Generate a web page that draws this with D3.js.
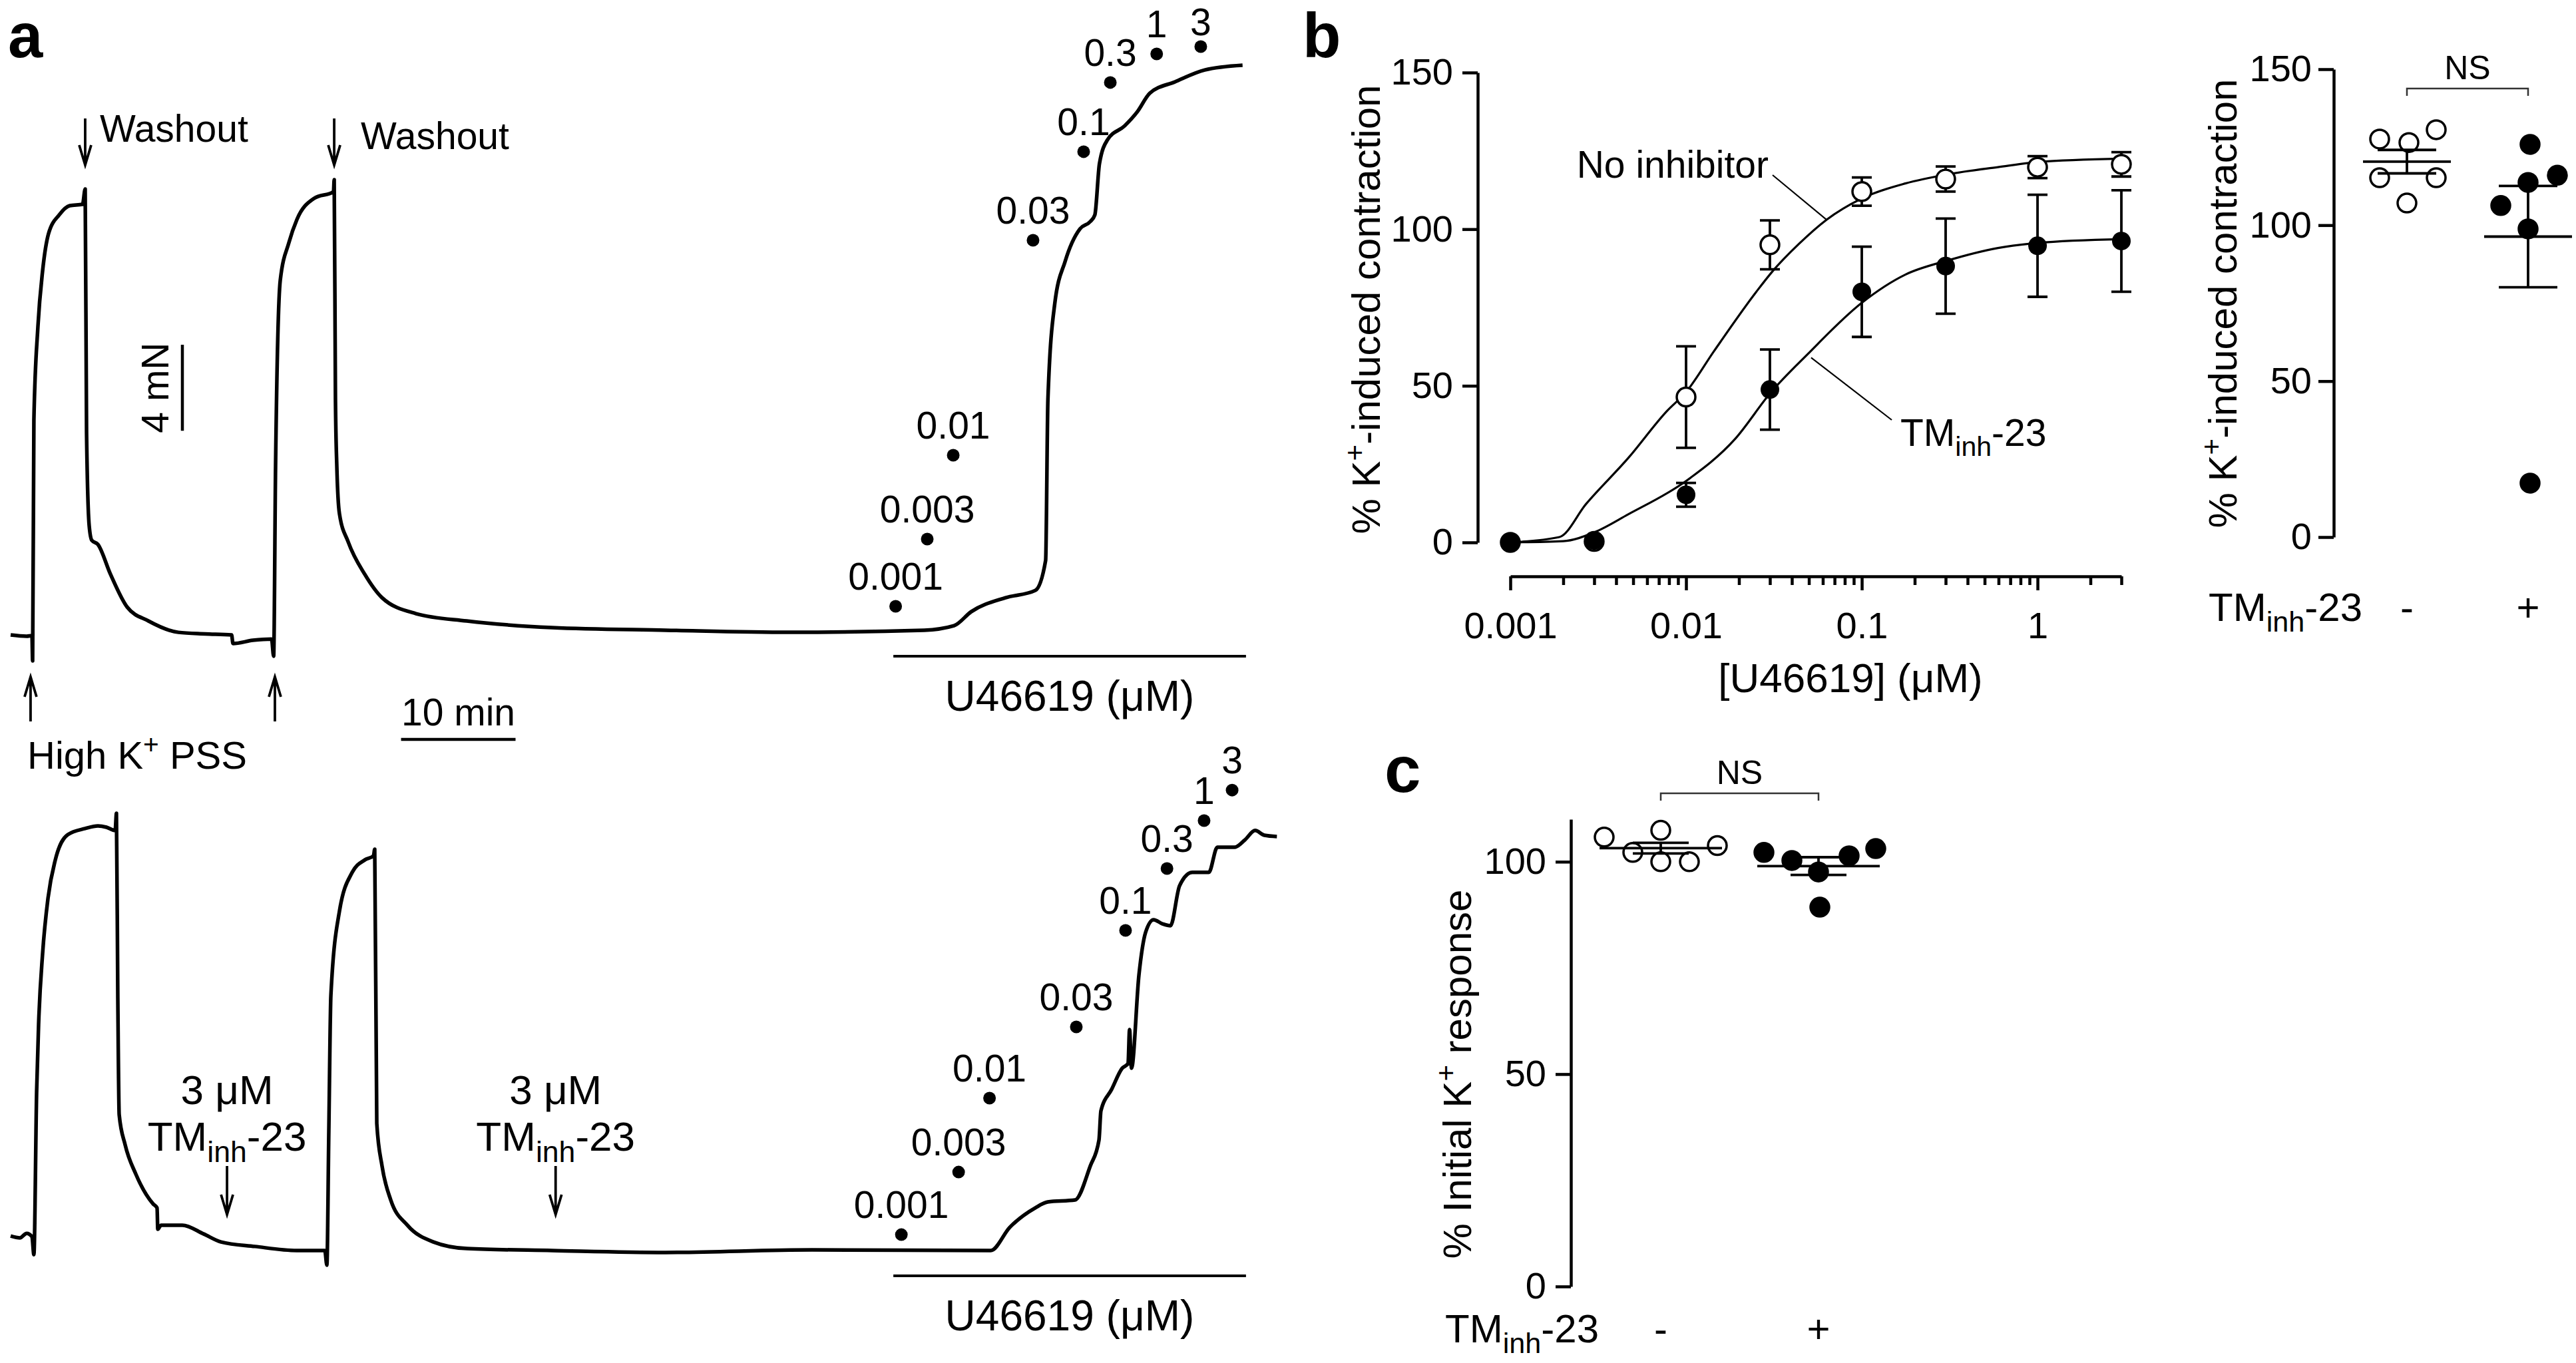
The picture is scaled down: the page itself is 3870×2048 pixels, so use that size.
<!DOCTYPE html>
<html>
<head>
<meta charset="utf-8">
<script src="https://cdn.jsdelivr.net/npm/d3@7"></script>
<style>
body { margin: 0; background: #fff; }
text { font-family: "Liberation Sans", Arial, Helvetica, sans-serif; fill: #000; }
</style>
</head>
<body>
<svg id="fig"></svg>
<script>
// ---- panel a : isometric tension traces (time in min, force in mN) ----
var ctrlT = [0, 1.4, 1.86, 1.92, 2.03, 2.38, 2.79, 3.31, 4.24, 5.17, 6.28, 6.51, 6.63, 6.86, 7.09,
  7.62, 8.72, 10.17, 12.03, 14.65, 17.0, 19.3, 19.42, 21.16, 22.79, 22.97, 23.14, 23.55, 24.3, 25.0,
  26.51, 28.2, 28.26, 28.37, 28.49, 28.72, 29.48, 30.93, 32.44, 35.41, 39.83, 47.27, 57.2, 68.0, 79.8,
  82.4, 83.9, 86.9, 89.5, 90.4, 90.6, 91.2, 92.1, 93.4, 94.3, 94.7, 95.1, 95.8, 97.3, 98.4,
  99.5, 101.7, 104.3, 107.6];
var ctrlF = [0, -0.06, -0.03, -1.21, 10.0, 14.33, 16.93, 18.67, 19.54, 19.97, 20.03, 20.74, 9.41, 5.08, 4.40,
  4.21, 2.82, 1.30, 0.65, 0.12, 0.05, 0, -0.4, -0.25, -0.19, -0.99, 7.86, 16.5, 18.24, 19.32,
  20.31, 20.62, 21.18, 10.96, 7.83, 5.63, 4.33, 2.82, 1.73, 0.99, 0.65, 0.34, 0.22, 0.12, 0.22,
  0.43, 1.08, 1.73, 2.07, 3.47, 10.96, 15.42, 17.37, 18.89, 19.23, 19.54, 21.92, 23.03, 23.68, 24.33,
  25.2, 25.73, 26.28, 26.5];

var inhT = [0, 0.81, 1.4, 1.86, 2.03, 2.27, 2.44, 2.79, 3.26, 3.90, 5.0, 6.51, 7.62, 8.37, 9.13,
  9.24, 9.36, 9.48, 10.0, 10.93, 12.44, 12.79, 12.85, 13.14, 15.0, 16.86, 18.37, 21.34, 25.0, 27.44,
  27.62, 27.79, 27.97, 28.72, 29.83, 30.93, 31.69, 31.8, 31.98, 32.44, 33.2, 34.65, 36.92, 39.88, 47.27,
  57.2, 70.0, 85.6, 87.27, 89.48, 90.58, 92.97, 94.3, 95.06, 95.23, 96.16, 97.09, 97.6, 97.73, 97.9,
  98.55, 99.13, 99.83, 100.6, 101.3, 102.1, 103.2, 104.65, 105.4, 106.9, 107.8, 108.7, 109.5, 110.6];
var inhF = [0.68, 0.59, 0.8, 0.65, -0.19, 7.4, 10.5, 13.81, 16.38, 18.17, 19.35, 19.63, 19.75, 19.69, 19.54,
  20.34, 11.73, 6.32, 4.92, 3.56, 2.17, 1.98, 0.99, 1.18, 1.18, 0.77, 0.40, 0.19, 0, 0,
  -0.68, 5.54, 11.86, 15.79, 17.59, 18.17, 18.36, 18.67, 5.91, 3.93, 2.35, 1.18, 0.40, 0.09, 0,
  -0.09, 0.03, 0, 1.08, 1.98, 2.26, 2.35, 3.93, 5.14, 6.5, 7.49, 8.48, 8.7, 10.28, 8.48,
  12.82, 14.8, 15.39, 15.2, 15.11, 16.97, 17.59, 17.59, 18.76, 18.76, 19.1, 19.54, 19.32, 19.26];

var doseLabels = ["0.001", "0.003", "0.01", "0.03", "0.1", "0.3", "1", "3"];
var ctrlDoseT = [77.3, 80.06, 82.33, 89.3, 93.72, 96.05, 100.1, 103.95];
var ctrlDoseF = [1.33, 4.46, 8.36, 18.36, 22.48, 25.7, 27.03, 27.37];
var inhDoseT = [77.8, 82.8, 85.5, 93.08, 97.38, 101.0, 104.24, 106.69];
var inhDoseF = [0.74, 3.65, 7.09, 10.4, 14.89, 17.77, 20.0, 21.42];

var highKT = [1.74, 23.08];      // high K+ PSS added
var washT = [6.51, 28.26];       // washout
var tmAddT = [18.9, 47.6];       // 3 uM TMinh-23 added
var u466T = [77.1, 107.9];       // U46619 period

// ---- panel b : concentration-response ----
var conc = [0.001, 0.003, 0.01, 0.03, 0.1, 0.3, 1, 3];
var ctrlMean = [0, 0.3, 46.4, 95, 112, 116, 119.8, 120.7];
var ctrlSem = [0, 0, 16.2, 7.8, 4.5, 4, 3.5, 3.9];
var inhMean = [0, 0.6, 15.2, 48.8, 80, 88.2, 94.7, 96.2];
var inhSem = [0, 0, 3.8, 12.8, 14.4, 15.2, 16.3, 16.2];

var ctrlFitX = [0.001, 0.0019, 0.0027, 0.0047, 0.0078, 0.01, 0.0144, 0.0251, 0.031, 0.0439, 0.063, 0.1, 0.177, 0.308, 0.596, 1, 3];
var ctrlFitY = [0, 1.7, 12.3, 27, 42, 48, 61, 80, 86.5, 95.3, 103, 109.8, 114.6, 117.5, 119.8, 121.4, 122.5];
var inhFitX = [0.001, 0.002, 0.003, 0.0047, 0.01, 0.019, 0.0305, 0.049, 0.1, 0.177, 0.308, 0.596, 1, 3];
var inhFitY = [0, 0.4, 3.2, 9, 19.6, 33, 48, 60, 76.5, 85.5, 90, 94, 95.6, 96.8];

var bCtrl = [127.6, 126.5, 130.6, 115.2, 115.2, 107.1];
var bInh = [125.9, 116, 113.7, 106.3, 98.8, 17.3];

// ---- panel c : initial K+ response ----
var cCtrl = [105.8, 102.2, 107.4, 100, 100, 103.8];
var cInh = [102.2, 100.3, 101.4, 103.1, 97.6, 89.3];

var groups = ["-", "+"];

// scatter jitter (px, layout only)
var bCtrlJit = [-41, 3, 44, -41, 44, 0];
var bInhJit = [3, 44, 0, -41, 0, 3];
var cCtrlJit = [-85, -42, 0, 0, 43, 85];
var cInhJit = [-82, -40, 46, 86, 0, 2];

var W = 3870, H = 2048;
var svg = d3.select("#fig").attr("width", W).attr("height", H);
svg.append("rect").attr("width", W).attr("height", H).attr("fill", "#fff");

function txt(x, y, s, size, anchor) {
  return svg.append("text").attr("x", x).attr("y", y).attr("font-size", size)
    .attr("text-anchor", anchor || "start").text(s);
}
function tmText(g, x, y, size, anchor) {
  var t = g.append("text").attr("x", x).attr("y", y).attr("font-size", size)
    .attr("text-anchor", anchor || "start");
  t.append("tspan").text("TM");
  t.append("tspan").attr("font-size", size * 0.72).attr("dy", size * 0.27).text("inh");
  t.append("tspan").attr("dy", -size * 0.27).text("-23");
  return t;
}
function kPlus(t, size) {
  t.append("tspan").text("K");
  t.append("tspan").attr("font-size", size * 0.7).attr("dy", -size * 0.38).text("+");
}
function arrow(x, yTail, yTip) {
  var d = yTip > yTail ? -1 : 1;
  svg.append("path")
    .attr("d", "M" + x + "," + yTail + "V" + yTip +
      "M" + (x - 9) + "," + (yTip + d * 30) + "L" + x + "," + yTip + "L" + (x + 9) + "," + (yTip + d * 30))
    .attr("fill", "none").attr("stroke", "#000").attr("stroke-width", 3.8);
}

// panel letters
svg.append("text").attr("x", 12).attr("y", 86).attr("font-size", 94).attr("font-weight", "bold").text("a");
svg.append("text").attr("x", 1957).attr("y", 86).attr("font-size", 94).attr("font-weight", "bold").text("b");
svg.append("text").attr("x", 2080).attr("y", 1190).attr("font-size", 98).attr("font-weight", "bold").text("c");

// ================= panel a =================
var xTime = d3.scaleLinear().domain([0, 112]).range([16, 16 + 112 * 17.2]);
var yTop = d3.scaleLinear().domain([0, 1]).range([954, 954 - 32.3]);
var yBot = d3.scaleLinear().domain([0, 1]).range([1879, 1879 - 32.3]);

function drawTrace(T, F, y) {
  var line = d3.line().x(function(d) { return xTime(d[0]); }).y(function(d) { return y(d[1]); })
    .curve(d3.curveMonotoneX);
  svg.append("path").attr("d", line(d3.zip(T, F)))
    .attr("fill", "none").attr("stroke", "#000").attr("stroke-width", 5.5)
    .attr("stroke-linejoin", "round");
}
drawTrace(ctrlT, ctrlF, yTop);
drawTrace(inhT, inhF, yBot);

function drawDoses(T, F, y) {
  T.forEach(function(t, i) {
    var cx = xTime(t), cy = y(F[i]);
    svg.append("circle").attr("cx", cx).attr("cy", cy).attr("r", 9.5).attr("fill", "#000");
    txt(cx, Math.max(cy - 25, 53), doseLabels[i], 57, "middle");
  });
}
drawDoses(ctrlDoseT, ctrlDoseF, yTop);
drawDoses(inhDoseT, inhDoseF, yBot);

// U46619 bars
[[yTop(0) + 32, 1068], [yBot(0) + 38, 1999]].forEach(function(p) {
  svg.append("line").attr("x1", xTime(u466T[0])).attr("x2", xTime(u466T[1]))
    .attr("y1", p[0]).attr("y2", p[0]).attr("stroke", "#000").attr("stroke-width", 4);
  txt((xTime(u466T[0]) + xTime(u466T[1])) / 2, p[1], "U46619 (\u03bcM)", 64, "middle");
});

// arrows and labels
highKT.forEach(function(t) { arrow(xTime(t), 1084, 1017); });
washT.forEach(function(t, i) {
  arrow(xTime(t), 178, 248);
  txt(xTime(t) + (i === 0 ? 22 : 40), i === 0 ? 213 : 224, "Washout", 57);
});
var hk = svg.append("text").attr("x", 41).attr("y", 1155).attr("font-size", 58);
hk.append("tspan").text("High ");
kPlus(hk, 58);
hk.append("tspan").attr("dy", 58 * 0.38).text(" PSS");

tmAddT.forEach(function(t) {
  var x = xTime(t);
  arrow(x, 1752, 1825);
  txt(x, 1659, "3 \u03bcM", 62, "middle");
  tmText(svg, x, 1729, 62, "middle");
});

// scale bars
svg.append("line").attr("x1", xTime(15)).attr("x2", xTime(15))
  .attr("y1", yTop(9.5)).attr("y2", yTop(13.5)).attr("stroke", "#000").attr("stroke-width", 4.5);
svg.append("text").attr("transform", "translate(253," + (yTop(11.5)) + ") rotate(-90)")
  .attr("font-size", 57).attr("text-anchor", "middle").text("4 mN");
svg.append("line").attr("x1", xTime(34.1)).attr("x2", xTime(44.1))
  .attr("y1", 1111).attr("y2", 1111).attr("stroke", "#000").attr("stroke-width", 4.5);
txt((xTime(34.1) + xTime(44.1)) / 2, 1090, "10 min", 57, "middle");

// ================= panel b (left) =================
var xB = d3.scaleLog().domain([0.001, 3]).range([2269, 3187]);
var yB = d3.scaleLinear().domain([0, 150]).range([815, 109]);

function styleAxis(g, size) {
  g.attr("font-family", null).attr("font-size", null);
  g.selectAll("path, line").attr("stroke", "#000").attr("stroke-width", 4.5);
  g.selectAll("text").attr("font-size", size).attr("fill", "#000");
}

var gy = svg.append("g").attr("transform", "translate(2220,0)")
  .call(d3.axisLeft(yB).tickValues([0, 50, 100, 150]).tickSize(23).tickSizeOuter(0).tickPadding(14));
styleAxis(gy, 56);

var major = [0.001, 0.01, 0.1, 1];
var minor = [];
major.forEach(function(dec) {
  for (var k = 2; k <= 9; k++) { if (k * dec <= 3.0001) minor.push(k * dec); }
});
var gx = svg.append("g").attr("transform", "translate(0,866)")
  .call(d3.axisBottom(xB).tickValues(major).tickSize(21).tickSizeOuter(0).tickPadding(32)
    .tickFormat(d3.format("~g")));
styleAxis(gx, 56);
var gxm = svg.append("g").attr("transform", "translate(0,866)")
  .call(d3.axisBottom(xB).tickValues(minor).tickSize(13).tickFormat(""));
styleAxis(gxm, 56);
gxm.select(".domain").remove();

var ybt = svg.append("text").attr("transform", "translate(2073,465) rotate(-90)")
  .attr("font-size", 60).attr("text-anchor", "middle");
ybt.append("tspan").text("% ");
kPlus(ybt, 60);
ybt.append("tspan").attr("dy", 60 * 0.38).text("-induced contraction");
txt(2780, 1040, "[U46619] (\u03bcM)", 62, "middle");

var fitLine = d3.line().x(function(d) { return xB(d[0]); }).y(function(d) { return yB(d[1]); })
  .curve(d3.curveMonotoneX);
[[ctrlFitX, ctrlFitY], [inhFitX, inhFitY]].forEach(function(f) {
  svg.append("path").attr("d", fitLine(d3.zip(f[0], f[1])))
    .attr("fill", "none").attr("stroke", "#000").attr("stroke-width", 3.2);
});

function errBars(M, S) {
  conc.forEach(function(c, i) {
    if (S[i] <= 0) return;
    var x = xB(c), y1 = yB(M[i] - S[i]), y2 = yB(M[i] + S[i]);
    svg.append("path").attr("d", "M" + x + "," + y1 + "V" + y2 +
      "M" + (x - 15) + "," + y1 + "H" + (x + 15) + "M" + (x - 15) + "," + y2 + "H" + (x + 15))
      .attr("fill", "none").attr("stroke", "#000").attr("stroke-width", 3.8);
  });
}
errBars(ctrlMean, ctrlSem);
errBars(inhMean, inhSem);
svg.selectAll(".openpt").data(conc).enter().append("circle")
  .attr("cx", function(d) { return xB(d); })
  .attr("cy", function(d, i) { return yB(ctrlMean[i]); })
  .attr("r", 14).attr("fill", "#fff").attr("stroke", "#000").attr("stroke-width", 3.5);
svg.selectAll(".fillpt").data(conc).enter().append("circle")
  .attr("cx", function(d) { return xB(d); })
  .attr("cy", function(d, i) { return yB(inhMean[i]); })
  .attr("r", 14).attr("fill", "#000");

// curve labels
txt(2657, 267, "No inhibitor", 57, "end");
svg.append("line").attr("x1", 2663).attr("y1", 263).attr("x2", xB(0.063)).attr("y2", yB(103))
  .attr("stroke", "#000").attr("stroke-width", 2.2);
tmText(svg, 2855, 670, 57, "start");
svg.append("line").attr("x1", xB(0.0515)).attr("y1", yB(59)).attr("x2", 2842).attr("y2", 631)
  .attr("stroke", "#000").attr("stroke-width", 2.2);

// ================= scatter panels =================
function scatter(opt) {
  var y = opt.y, xg = d3.scalePoint().domain(groups).range(opt.xr);
  var ga = svg.append("g").attr("transform", "translate(" + opt.axisX + ",0)")
    .call(d3.axisLeft(y).tickValues(opt.ticks).tickSize(23).tickSizeOuter(0).tickPadding(opt.pad));
  styleAxis(ga, 56);

  [opt.ctrl, opt.inh].forEach(function(vals, gi) {
    var cx = xg(groups[gi]), jit = gi === 0 ? opt.ctrlJit : opt.inhJit;
    vals.forEach(function(v, i) {
      svg.append("circle").attr("cx", cx + jit[i]).attr("cy", y(v)).attr("r", 14)
        .attr("fill", gi === 0 ? "#fff" : "#000").attr("stroke", "#000").attr("stroke-width", 3.5);
    });
    var m = d3.mean(vals), se = d3.deviation(vals) / Math.sqrt(vals.length);
    svg.append("path").attr("d",
      "M" + (cx - opt.mw) + "," + y(m) + "H" + (cx + opt.mw) +
      "M" + cx + "," + y(m - se) + "V" + y(m + se) +
      "M" + (cx - opt.cw) + "," + y(m - se) + "H" + (cx + opt.cw) +
      "M" + (cx - opt.cw) + "," + y(m + se) + "H" + (cx + opt.cw))
      .attr("fill", "none").attr("stroke", "#000").attr("stroke-width", 3.8);
    txt(cx, opt.labY, groups[gi], 60, "middle");
  });
  tmText(svg, opt.tmX, opt.labY, 60, "end");

  // NS bracket
  var x0 = xg("-"), x1 = xg("+");
  svg.append("path").attr("d", "M" + x0 + "," + (opt.brY + 11) + "V" + opt.brY + "H" + x1 + "V" + (opt.brY + 11))
    .attr("fill", "none").attr("stroke", "#333").attr("stroke-width", 2.5);
  txt((x0 + x1) / 2, opt.brY - 14, "NS", 50, "middle");

  var t = svg.append("text").attr("transform", "translate(" + opt.titleX + "," + opt.titleY + ") rotate(-90)")
    .attr("font-size", 60).attr("text-anchor", "middle");
  t.append("tspan").text(opt.title[0]);
  kPlus(t, 60);
  t.append("tspan").attr("dy", 60 * 0.38).text(opt.title[1]);
}

scatter({
  y: d3.scaleLinear().domain([0, 150]).range([807, 104]),
  axisX: 3506, ticks: [0, 50, 100, 150], pad: 10, xr: [3616, 3798],
  ctrl: bCtrl, inh: bInh, ctrlJit: bCtrlJit, inhJit: bInhJit,
  mw: 66, cw: 44, labY: 933, tmX: 3549, brY: 133,
  titleX: 3360, titleY: 456, title: ["% ", "-induced contraction"]
});
scatter({
  y: d3.scaleLinear().domain([0, 110]).range([1933, 1231]),
  axisX: 2360, ticks: [0, 50, 100], pad: 14, xr: [2495, 2732],
  ctrl: cCtrl, inh: cInh, ctrlJit: cCtrlJit, inhJit: cInhJit,
  mw: 92, cw: 42, labY: 2017, tmX: 2402, brY: 1192,
  titleX: 2210, titleY: 1614, title: ["% Initial ", " response"]
});
</script>
</body>
</html>
